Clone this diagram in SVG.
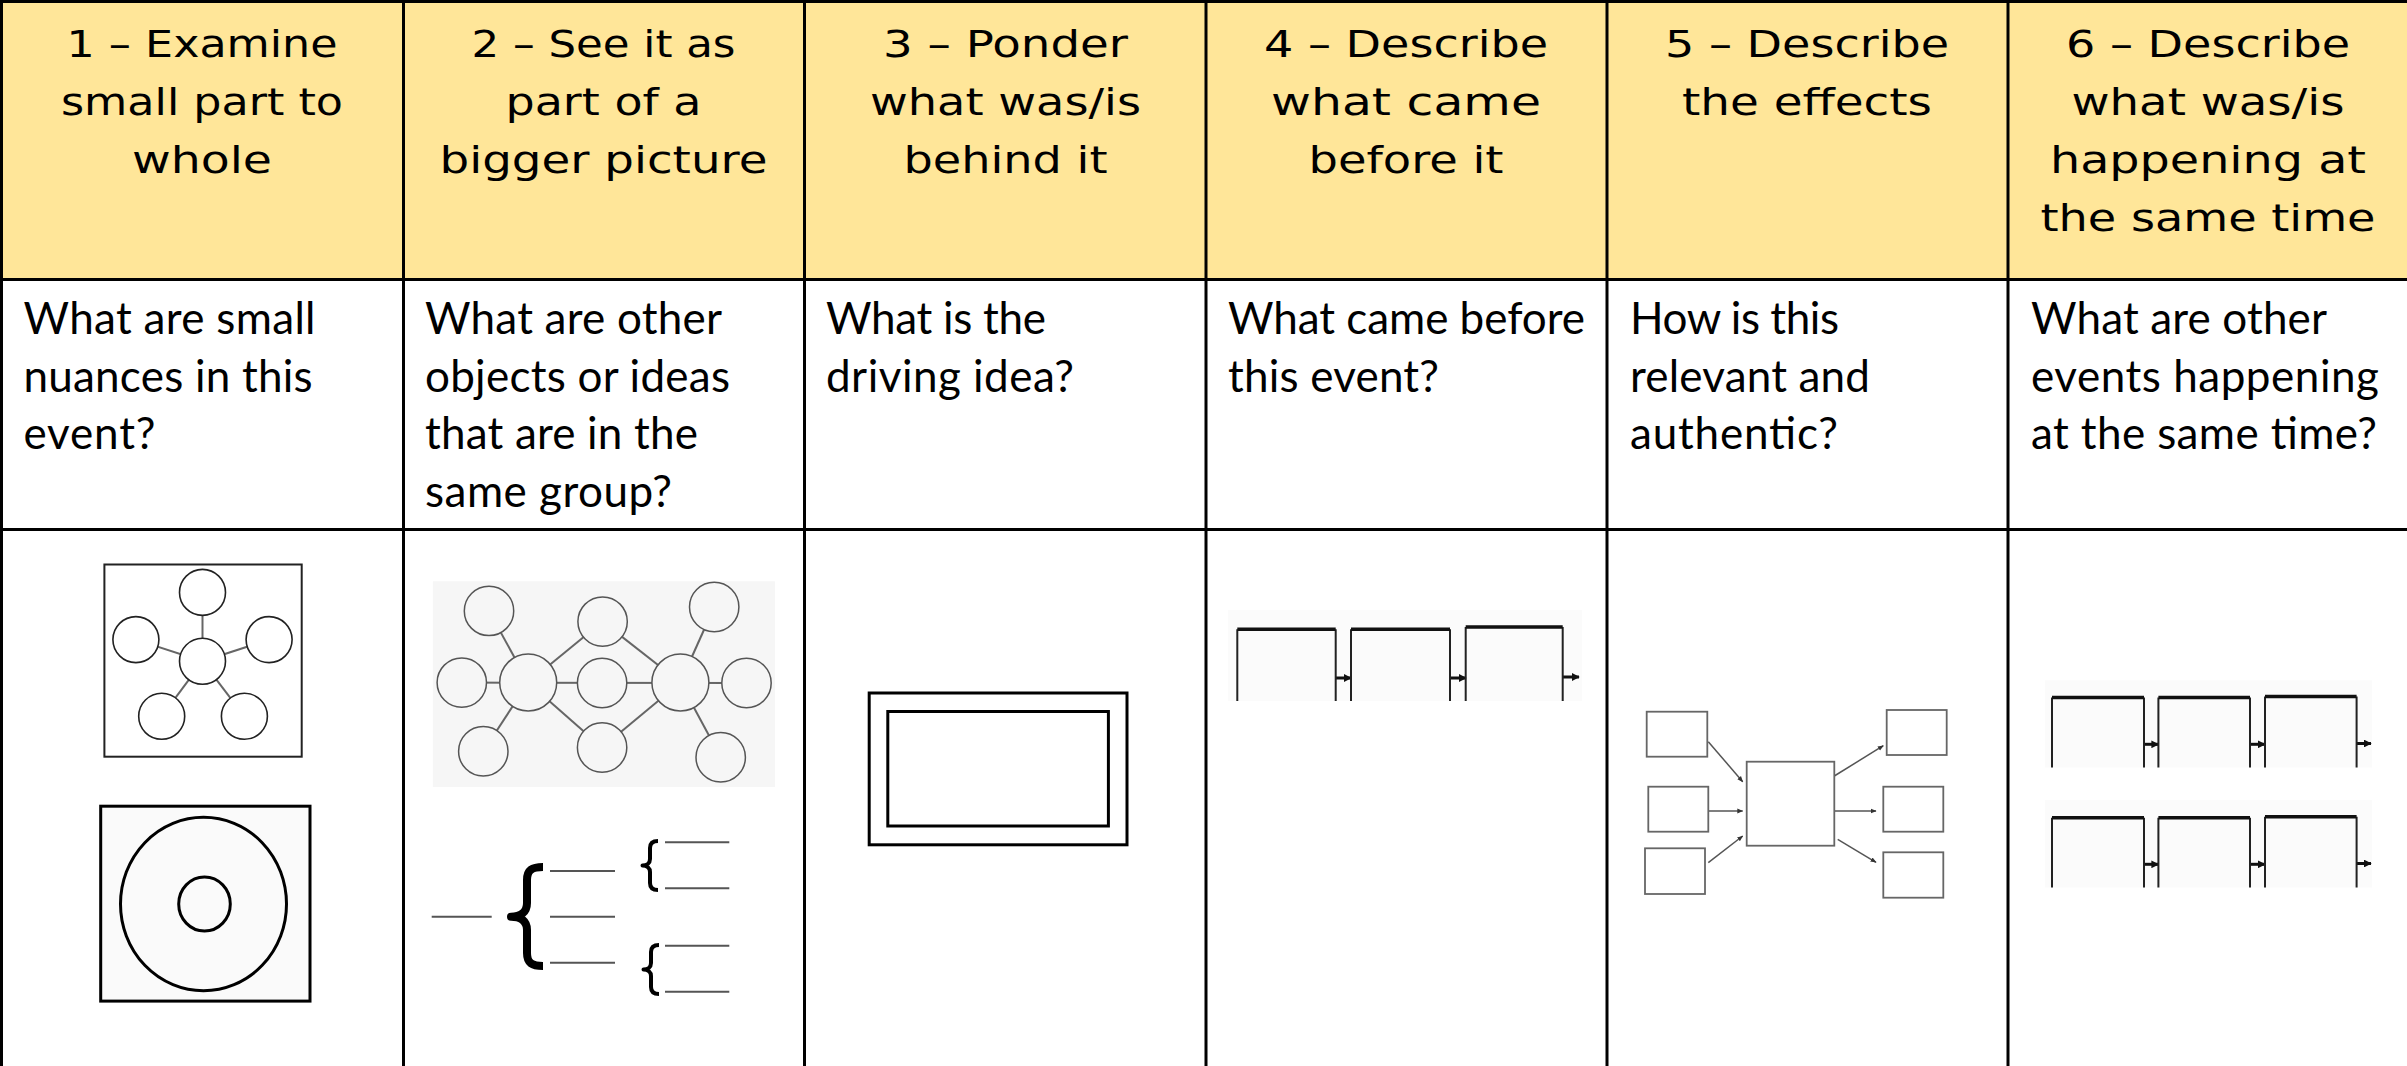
<svg xmlns="http://www.w3.org/2000/svg" width="2407" height="1066" viewBox="0 0 2407 1066">
<style>
.grid{stroke:#000;stroke-width:3;fill:none}
.hdr{font-family:"DejaVu Sans","Liberation Sans",sans-serif;font-size:38px;font-weight:400;fill:#000;text-anchor:middle}
.q{font-family:Lato,"Open Sans","Liberation Sans",sans-serif;font-size:44px;fill:#000}
.thin{stroke:#222;stroke-width:1.6;fill:#fff}
.net{stroke:#555;stroke-width:1.5;fill:#f6f6f6}
.edge{stroke:#666;stroke-width:2;fill:none}
.bold{stroke:#000;stroke-width:3;fill:none}
.box5{stroke:#666;stroke-width:1.8;fill:#fff}
.arr5{stroke:#555;stroke-width:1.5;fill:none;marker-end:url(#tiny)}
.tl{stroke:#222;stroke-width:2;fill:none}
.tltop{stroke:#111;stroke-width:3.5;fill:none}
.tlarr{stroke:#111;stroke-width:3;fill:none;marker-end:url(#tlhead)}
.rule{stroke:#555;stroke-width:2}
.brace{stroke:#000;fill:none;stroke-linejoin:round}
</style>
<defs>
<marker id="tiny" viewBox="0 0 10 10" refX="9" refY="5" markerWidth="4" markerHeight="4" orient="auto"><path d="M0,1 L10,5 L0,9z" fill="#333"/></marker>
<marker id="tlhead" viewBox="0 0 10 10" refX="9" refY="5" markerWidth="2.6" markerHeight="2.6" orient="auto"><path d="M0,0 L10,5 L0,10z" fill="#111"/></marker>
</defs>
<rect x="0" y="0" width="2407" height="1066" fill="#fff"/>
<g id="table">
<rect x="0" y="0" width="2407" height="280" fill="#FFE699"/>
<line class="grid" x1="0" y1="1.5" x2="2407" y2="1.5"/>
<line class="grid" x1="0" y1="279.5" x2="2407" y2="279.5"/>
<line class="grid" x1="0" y1="529.5" x2="2407" y2="529.5"/>
<line class="grid" x1="1.5" y1="0" x2="1.5" y2="1066"/>
<line class="grid" x1="403.5" y1="0" x2="403.5" y2="1066"/>
<line class="grid" x1="804.5" y1="0" x2="804.5" y2="1066"/>
<line class="grid" x1="1206" y1="0" x2="1206" y2="1066"/>
<line class="grid" x1="1607" y1="0" x2="1607" y2="1066"/>
<line class="grid" x1="2008" y1="0" x2="2008" y2="1066"/>
</g>
<g id="header-1" class="hdr">
<text x="202" y="56.5" textLength="271" lengthAdjust="spacingAndGlyphs">1 – Examine</text>
<text x="202" y="114.5" textLength="282" lengthAdjust="spacingAndGlyphs">small part to</text>
<text x="202" y="172.5" textLength="140" lengthAdjust="spacingAndGlyphs">whole</text>
</g>
<g id="header-2" class="hdr">
<text x="603.5" y="56.5" textLength="264" lengthAdjust="spacingAndGlyphs">2 – See it as</text>
<text x="603.5" y="114.5" textLength="196" lengthAdjust="spacingAndGlyphs">part of a</text>
<text x="603.5" y="172.5" textLength="328" lengthAdjust="spacingAndGlyphs">bigger picture</text>
</g>
<g id="header-3" class="hdr">
<text x="1005.5" y="56.5" textLength="245" lengthAdjust="spacingAndGlyphs">3 – Ponder</text>
<text x="1005.5" y="114.5" textLength="271" lengthAdjust="spacingAndGlyphs">what was/is</text>
<text x="1005.5" y="172.5" textLength="204" lengthAdjust="spacingAndGlyphs">behind it</text>
</g>
<g id="header-4" class="hdr">
<text x="1406" y="56.5" textLength="284" lengthAdjust="spacingAndGlyphs">4 – Describe</text>
<text x="1406" y="114.5" textLength="270" lengthAdjust="spacingAndGlyphs">what came</text>
<text x="1406" y="172.5" textLength="195" lengthAdjust="spacingAndGlyphs">before it</text>
</g>
<g id="header-5" class="hdr">
<text x="1807" y="56.5" textLength="284" lengthAdjust="spacingAndGlyphs">5 – Describe</text>
<text x="1807" y="114.5" textLength="250" lengthAdjust="spacingAndGlyphs">the effects</text>
</g>
<g id="header-6" class="hdr">
<text x="2208" y="56.5" textLength="284" lengthAdjust="spacingAndGlyphs">6 – Describe</text>
<text x="2208" y="114.5" textLength="273" lengthAdjust="spacingAndGlyphs">what was/is</text>
<text x="2208" y="172.5" textLength="316" lengthAdjust="spacingAndGlyphs">happening at</text>
<text x="2208" y="230.5" textLength="335" lengthAdjust="spacingAndGlyphs">the same time</text>
</g>
<g id="question-1" class="q">
<text x="23.5" y="334" textLength="292">What are small</text>
<text x="23.5" y="391.6" textLength="289">nuances in this</text>
<text x="23.5" y="449.2" textLength="132">event?</text>
</g>
<g id="question-2" class="q">
<text x="425" y="334" textLength="297">What are other</text>
<text x="425" y="391.6" textLength="305">objects or ideas</text>
<text x="425" y="449.2" textLength="273">that are in the</text>
<text x="425" y="506.8" textLength="247">same group?</text>
</g>
<g id="question-3" class="q">
<text x="826" y="334" textLength="220">What is the</text>
<text x="826" y="391.6" textLength="248">driving idea?</text>
</g>
<g id="question-4" class="q">
<text x="1228" y="334" textLength="357">What came before</text>
<text x="1228" y="391.6" textLength="211">this event?</text>
</g>
<g id="question-5" class="q">
<text x="1630" y="334" textLength="209">How is this</text>
<text x="1630" y="391.6" textLength="240">relevant and</text>
<text x="1630" y="449.2" textLength="208">authentic?</text>
</g>
<g id="question-6" class="q">
<text x="2031" y="334" textLength="296">What are other</text>
<text x="2031" y="391.6" textLength="348">events happening</text>
<text x="2031" y="449.2" textLength="346">at the same time?</text>
</g>
<g id="fig-backgrounds">
<rect x="104.4" y="564.5" width="197.3" height="192.2" fill="#fff" stroke="#222" stroke-width="2"/>
<rect x="432.9" y="581.3" width="342" height="205.7" fill="#f6f6f6"/>
<rect x="1228" y="610" width="354" height="91" fill="#fbfbfb"/>
<rect x="2045" y="680.4" width="327" height="87.1" fill="#fbfbfb"/>
<rect x="2045" y="800" width="327" height="87.5" fill="#fbfbfb"/>
</g>
<g id="connectors">
<line class="edge" x1="202.5" y1="592.4" x2="202.5" y2="661.3" stroke="#333"/>
<line class="edge" x1="135.9" y1="639.6" x2="202.5" y2="661.3"/>
<line class="edge" x1="269.1" y1="639.6" x2="202.5" y2="661.3"/>
<line class="edge" x1="161.7" y1="716.3" x2="202.5" y2="661.3"/>
<line class="edge" x1="244.4" y1="716.3" x2="202.5" y2="661.3"/>
<line class="edge" x1="489" y1="610.9" x2="528.2" y2="682.5"/>
<line class="edge" x1="528.2" y1="682.5" x2="602.6" y2="621.6"/>
<line class="edge" x1="602.6" y1="621.6" x2="680.4" y2="682.5"/>
<line class="edge" x1="680.4" y1="682.5" x2="714.2" y2="607"/>
<line class="edge" x1="461.8" y1="682.6" x2="746.5" y2="683" stroke="#999" stroke-width="3"/>
<line class="edge" x1="528.2" y1="682.5" x2="483.3" y2="751.3"/>
<line class="edge" x1="528.2" y1="682.5" x2="602.1" y2="747.5"/>
<line class="edge" x1="602.1" y1="747.5" x2="680.4" y2="682.5"/>
<line class="edge" x1="680.4" y1="682.5" x2="720.7" y2="757.3"/>
<line class="arr5" x1="1708.3" y1="741.7" x2="1742.7" y2="781.7"/>
<line class="arr5" x1="1708.3" y1="811" x2="1742.7" y2="811"/>
<line class="arr5" x1="1708.3" y1="862.7" x2="1742.7" y2="836"/>
<line class="arr5" x1="1834.3" y1="776" x2="1883.3" y2="745.7"/>
<line class="arr5" x1="1834.3" y1="811" x2="1876" y2="811"/>
<line class="arr5" x1="1837.7" y1="839.3" x2="1876" y2="862.3"/>
<line class="tlarr" x1="1335.7" y1="678" x2="1351" y2="678"/>
<line class="tlarr" x1="1450" y1="678" x2="1466" y2="678"/>
<line class="tlarr" x1="1562.7" y1="677" x2="1579" y2="677"/>
<line class="tlarr" x1="2144" y1="744.3" x2="2158.4" y2="744.3"/>
<line class="tlarr" x1="2250" y1="744.3" x2="2265" y2="744.3"/>
<line class="tlarr" x1="2356.6" y1="743.5" x2="2371" y2="743.5"/>
<line class="tlarr" x1="2144" y1="864.3" x2="2158.4" y2="864.3"/>
<line class="tlarr" x1="2250" y1="864.3" x2="2265" y2="864.3"/>
<line class="tlarr" x1="2356.6" y1="863.5" x2="2371" y2="863.5"/>
</g>
<g id="fig-star">
<circle class="thin" cx="202.5" cy="592.4" r="23"/>
<circle class="thin" cx="202.5" cy="661.3" r="23"/>
<circle class="thin" cx="135.9" cy="639.6" r="23"/>
<circle class="thin" cx="269.1" cy="639.6" r="23"/>
<circle class="thin" cx="161.7" cy="716.3" r="23"/>
<circle class="thin" cx="244.4" cy="716.3" r="23"/>
</g>
<g id="fig-target">
<rect x="100.7" y="806.2" width="209.3" height="194.9" fill="#fafafa" stroke="#000" stroke-width="3"/>
<ellipse cx="203.5" cy="904" rx="83" ry="86.7" fill="none" stroke="#000" stroke-width="3"/>
<ellipse cx="204.5" cy="904" rx="25.8" ry="27" fill="none" stroke="#000" stroke-width="3"/>
</g>
<g id="fig-network">
<circle class="net" cx="489" cy="610.9" r="24.7"/>
<circle class="net" cx="602.6" cy="621.6" r="24.7"/>
<circle class="net" cx="714.2" cy="607" r="24.7"/>
<circle class="net" cx="461.8" cy="682.6" r="24.7"/>
<circle class="net" cx="528.2" cy="682.5" r="28.5"/>
<circle class="net" cx="602.1" cy="683" r="24.7"/>
<circle class="net" cx="680.4" cy="682.5" r="28.5"/>
<circle class="net" cx="746.5" cy="683" r="24.7"/>
<circle class="net" cx="483.3" cy="751.3" r="24.7"/>
<circle class="net" cx="602.1" cy="747.5" r="24.7"/>
<circle class="net" cx="720.7" cy="757.3" r="24.7"/>
</g>
<g id="fig-braces">
<line class="rule" x1="431.7" y1="916.7" x2="491.7" y2="916.7"/>
<path class="brace" stroke-width="8" d="M543,867 C532,867 527,870 527,880 L527,903 C527,912 521,916.7 511,916.7 C521,916.7 527,921 527,930 L527,953 C527,963 532,966 543,966"/>
<line class="rule" x1="550" y1="871" x2="615" y2="871"/>
<line class="rule" x1="550" y1="916.7" x2="615" y2="916.7"/>
<line class="rule" x1="550" y1="962.7" x2="615" y2="962.7"/>
<path class="brace" stroke-width="4" d="M658,841 C653,841 650,843 650,848 L650,859 C650,863 647,865.5 642.5,865.5 C647,865.5 650,868 650,872 L650,883 C650,888 653,890 658,890"/>
<path class="brace" stroke-width="4" d="M659,945 C654,945 651,947 651,952 L651,963 C651,967 648,969.5 643.5,969.5 C648,969.5 651,972 651,976 L651,987 C651,992 654,994 659,994"/>
<line class="rule" x1="665" y1="842.3" x2="729.3" y2="842.3"/>
<line class="rule" x1="665" y1="888.3" x2="729.3" y2="888.3"/>
<line class="rule" x1="665" y1="945.7" x2="729.3" y2="945.7"/>
<line class="rule" x1="665" y1="991.7" x2="729.3" y2="991.7"/>
</g>
<g id="fig-frame">
<rect class="bold" x="869.2" y="693" width="257.8" height="151.8"/>
<rect class="bold" x="887.8" y="711.5" width="220.6" height="114.5"/>
</g>
<g id="fig-timeline-before">
<path class="tl" d="M1237.3,701 V629.3 M1335.7,629.3 V701 M1351,701 V629.3 M1450,629.3 V701 M1465.7,701 V627 M1562.7,627 V701"/>
<path class="tltop" d="M1237.3,629.3 H1335.7 M1351,629.3 H1450 M1465.7,627 H1562.7"/>
</g>
<g id="fig-effects">
<rect class="box5" x="1646.7" y="711.7" width="60.6" height="45"/>
<rect class="box5" x="1648.3" y="786.7" width="60" height="45"/>
<rect class="box5" x="1645" y="848.3" width="60" height="45.7"/>
<rect class="box5" x="1746.7" y="761.7" width="87.6" height="84"/>
<rect class="box5" x="1886.7" y="710" width="60" height="45"/>
<rect class="box5" x="1883.3" y="786.7" width="60" height="45"/>
<rect class="box5" x="1883.3" y="852.3" width="60" height="45.4"/>
</g>
<g id="fig-timeline-same-time">
<path class="tl" d="M2052,767.5 V697.5 M2144,697.5 V767.5 M2158.4,767.5 V697.5 M2250,697.5 V767.5 M2265,767.5 V696.5 M2356.6,696.5 V767.5"/>
<path class="tltop" d="M2052,697.5 H2144 M2158.4,697.5 H2250 M2265,696.5 H2356.6"/>
<path class="tl" d="M2052,887.5 V817.8 M2144,817.8 V887.5 M2158.4,887.5 V817.8 M2250,817.8 V887.5 M2265,887.5 V816.8 M2356.6,816.8 V887.5"/>
<path class="tltop" d="M2052,817.8 H2144 M2158.4,817.8 H2250 M2265,816.8 H2356.6"/>
</g>
</svg>
